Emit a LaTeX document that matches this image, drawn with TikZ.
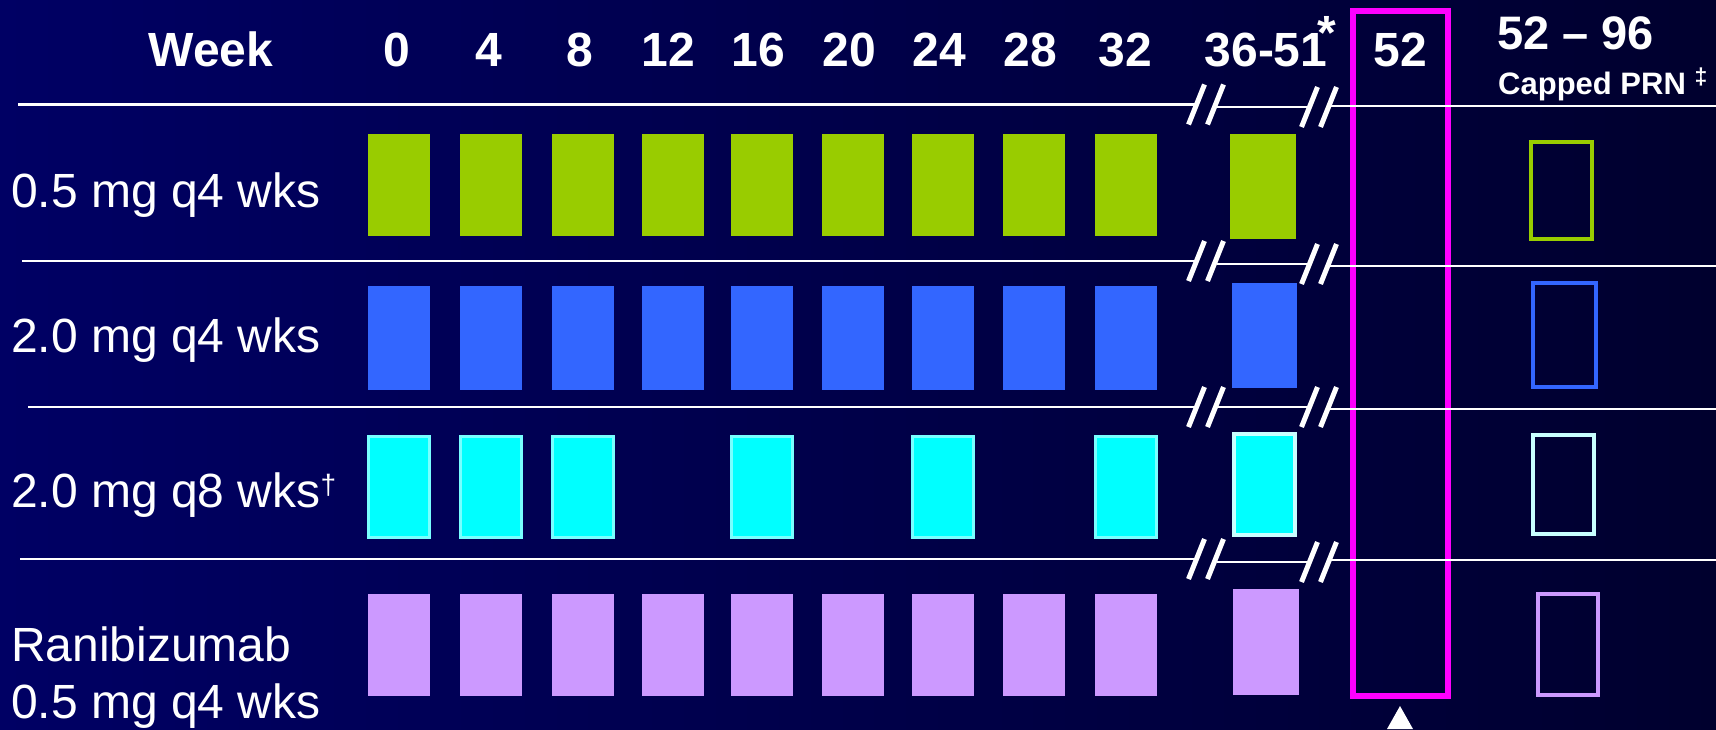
\documentclass[tikz,border=0pt]{standalone}
\usepackage{fontspec}
\setmainfont{Liberation Sans}
\usepackage{tikz}
\usetikzlibrary{positioning}
\usepackage{xcolor}
\definecolor{bgLeft}{RGB}{0, 0, 100}
\definecolor{bgMid}{RGB}{0, 0, 64}
\definecolor{bgRight}{RGB}{0, 0, 46}
\definecolor{armA}{RGB}{153, 204, 0}
\definecolor{armB}{RGB}{51, 102, 255}
\definecolor{armC}{RGB}{0, 255, 255}
\definecolor{armCedge}{RGB}{120, 255, 255}
\definecolor{armCpale}{RGB}{200, 255, 255}
\definecolor{armD}{RGB}{204, 153, 255}
\definecolor{visit52}{RGB}{255, 0, 255}

\begin{document}
\begin{tikzpicture}[x=1pt, y=-1pt,
  every node/.style={inner sep=0pt, text=white},
  hdr/.style={font=\fontsize{48}{56}\selectfont\bfseries, anchor=base},
  lbl/.style={font=\fontsize{48}{56}\selectfont, anchor=base west},
  rule/.style={white, line width=2.2pt},
  brk/.style={white, line width=5pt}]
  % Schedule grid, one pixel of the slide = 1pt
  \def\bw{31}
  \useasboundingbox (0,0) rectangle (1716,729);
  \shade[left color=bgLeft, middle color=bgMid, right color=bgRight]
    (0,0) rectangle (1716,729);

  % Week 52 frame
  \draw[visit52, line width=6pt] (1352.5,11) rectangle (1447.5,696);
  \fill[white] (1400,706) -- (1413,729) -- (1387,729) -- cycle;

  % Row rules with axis breaks
  \foreach \xs/\yl/\ym/\yr in {18/104.5/107/106, 22/261/264/266,
                               28/407/407/409, 20/559/562/560} {
    \draw[rule] (\xs,\yl) -- (1195,\yl);
    \draw[rule] (1217,\ym) -- (1308,\ym);
    \draw[rule] (1330,\yr) -- (1716,\yr);
    \foreach \bx/\by in {1206/\yl, 1319/\ym}
      \foreach \dx in {-9.5,9.5}
        \draw[brk] (\bx+\dx+8,\by-20) -- (\bx+\dx-8,\by+20);
  }

  % Header
  \node[hdr] (wk) at (211,66) {Week};
  \foreach \wk/\cx in {0/397, 4/489, 8/580, 12/668, 16/758,
                       20/849, 24/939, 28/1030, 32/1125}
    \node[hdr] (wk\wk) at (\cx,66) {\wk};
  \node[hdr] (wkmid) at (1266,66) {36-51\rlap{\kern-10pt\raisebox{17pt}{*}}};
  \node[hdr] (wk52) at (1400,66) {52};
  \node[hdr, anchor=base west, font=\fontsize{47}{56}\selectfont\bfseries]
    (wkext) at (1497,49) {52 – 96};
  \node[anchor=base west, font=\fontsize{31}{36}\selectfont\bfseries]
    (prn) at (1498,94) {Capped PRN \raisebox{10pt}{\fontsize{23}{26}\selectfont ‡}};

  % Arm labels
  \node[lbl] (lblA) at (11,207) {0.5 mg q4 wks};
  \node[lbl] (lblB) at (11,352) {2.0 mg q4 wks};
  \node[lbl] (lblC) at (11,507)
    {2.0 mg q8 wks\raisebox{13pt}{\fontsize{28}{30}\selectfont †}};
  \node[lbl] (lblD) at (11,661) {Ranibizumab};
  \node[lbl] (lblDd) at (11,718) {0.5 mg q4 wks};

  % Injections, weeks 0-32
  \foreach \cx in {399,491,583,673,762,853,943,1034,1126} {
    \fill[armA] (\cx-\bw,134) rectangle (\cx+\bw,236);
    \fill[armB] (\cx-\bw,286) rectangle (\cx+\bw,390);
    \fill[armD] (\cx-\bw,594) rectangle (\cx+\bw,696);
  }
  \foreach \cx in {399,491,583,762,943,1126}
    \filldraw[fill=armC, draw=armCedge, line width=2.5pt]
      (\cx-\bw+0.5,436.5) rectangle (\cx+\bw-0.5,537.5);

  % Weeks 36-51
  \fill[armA] (1230,134) rectangle (1296,239);
  \fill[armB] (1232,283) rectangle (1297,388);
  \filldraw[fill=armC, draw=armCpale, line width=4pt] (1234,434) rectangle (1295,535);
  \fill[armD] (1233,589) rectangle (1299,695);

  % Weeks 52-96, as needed
  \draw[armA, line width=4pt] (1531,142) rectangle (1592,239);
  \draw[armB, line width=4pt] (1533,283) rectangle (1596,387);
  \draw[armCpale, line width=4pt] (1533,435) rectangle (1594,534);
  \draw[armD, line width=4pt] (1538,594) rectangle (1598,695);
\end{tikzpicture}
\end{document}
